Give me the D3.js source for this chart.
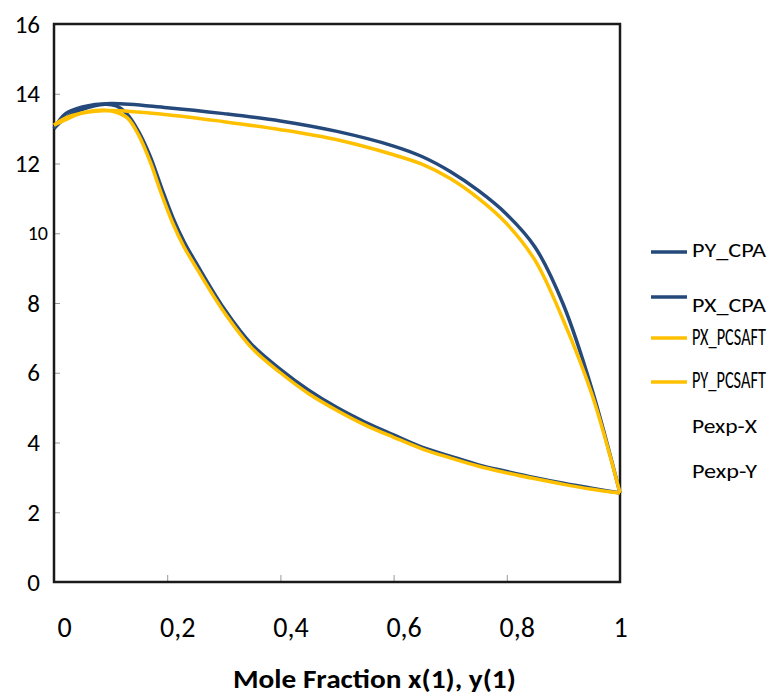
<!DOCTYPE html>
<html lang="en">
<head>
<meta charset="UTF-8"/>
<title>Pxy</title>
<script src="https://d3js.org/d3.v7.min.js"></script>
<style>
  body { margin: 0; background: #fff; }
  text { font-family: Carlito, "Open Sans", sans-serif; fill: #000; }
</style>
</head>
<body>
<div id="chart"></div>
<script>
// mole fractions where the curves were read
var xs = [0, 0.02, 0.05, 0.1, 0.2, 0.3, 0.4, 0.5, 0.6, 0.65, 0.7, 0.75, 0.8, 0.85, 0.9, 0.95, 1];
var pxCPA = [13.0, 13.42, 13.62, 13.72, 13.6, 13.43, 13.22, 12.92, 12.5, 12.2, 11.77, 11.22, 10.54, 9.6, 7.95, 5.55, 2.55];
var pxPCSAFT = [13.1, 13.3, 13.45, 13.52, 13.4, 13.2, 12.97, 12.68, 12.25, 11.98, 11.57, 11.0, 10.27, 9.22, 7.5, 5.4, 2.55];

var ys = [0, 0.02, 0.05, 0.09, 0.11, 0.13, 0.15, 0.17, 0.19, 0.21, 0.23, 0.25, 0.3, 0.35, 0.4, 0.45, 0.5, 0.55, 0.6, 0.65, 0.7, 0.75, 0.8, 0.85, 0.9, 0.95, 1];
var pyCPA = [13.0, 13.3, 13.55, 13.7, 13.65, 13.4, 12.9, 12.2, 11.3, 10.45, 9.75, 9.18, 7.85, 6.8, 6.1, 5.5, 5.0, 4.58, 4.22, 3.87, 3.61, 3.36, 3.17, 2.99, 2.83, 2.69, 2.55];
var pyPCSAFT = [13.1, 13.25, 13.45, 13.53, 13.47, 13.3, 12.8, 12.05, 11.12, 10.28, 9.6, 9.05, 7.75, 6.7, 6.0, 5.4, 4.92, 4.5, 4.15, 3.82, 3.56, 3.32, 3.13, 2.96, 2.8, 2.66, 2.55];

var xTicks = [0, 0.2, 0.4, 0.6, 0.8, 1];
var yTicks = [0, 2, 4, 6, 8, 10, 12, 14, 16];
var legendNames = ["PY_CPA", "PX_CPA", "PX_PCSAFT", "PY_PCSAFT", "Pexp-X", "Pexp-Y"];

var blue = "#24497a", yellow = "#ffc000";

var W = 770, H = 698;
var margin = {top: 24, left: 54},
    width = 566, height = 558;

var svg = d3.select("#chart").append("svg")
    .attr("width", W).attr("height", H);
var g = svg.append("g")
    .attr("transform", "translate(" + margin.left + "," + margin.top + ")");

var x = d3.scaleLinear().domain([0, 1]).range([0, width]);
var y = d3.scaleLinear().domain([0, 16]).range([height, 0]);

// stretch a text horizontally to a given width, keeping its left edge
function fitWidth(t, x0, w) {
  var len = t.node().getComputedTextLength();
  var k = w / len;
  t.attr("transform", "translate(" + x0 + ",0) scale(" + k + ",1) translate(" + (-x0) + ",0)");
}

// x axis, ticks pointing inward
var xa = g.append("g")
    .attr("transform", "translate(0," + height + ")")
    .call(d3.axisBottom(x).tickValues(xTicks).tickSize(-7)
        .tickFormat(function(d) { return String(d).replace(".", ","); }));
xa.select(".domain").remove();
xa.selectAll("line").attr("stroke", "#999");
xa.selectAll("text")
    .attr("y", 55).attr("dy", 0)
    .attr("dx", function(d) { return d === 1 ? 0 : 10; })
    .style("font-size", "28px");

// y axis
var ya = g.append("g")
    .call(d3.axisLeft(y).tickValues(yTicks).tickSize(-6).tickPadding(14));
ya.select(".domain").remove();
ya.selectAll("line").attr("stroke", "#999");
ya.selectAll("text")
    .attr("dy", "0.32em")
    .style("font-size", function(d) { return d === 10 ? "20px" : "25px"; })
    .attr("x", function(d) { return d === 10 ? -6 : -14; });

// frame
g.append("rect")
    .attr("width", width).attr("height", height)
    .attr("fill", "none").attr("stroke", "#1a1a1a").attr("stroke-width", 2.5);

var line = d3.line().curve(d3.curveCatmullRom.alpha(0.5));

function curve(xv, pv, col, w) {
  g.append("path")
    .datum(xv.map(function(d, i) { return [x(d), y(pv[i])]; }))
    .attr("d", line)
    .attr("fill", "none")
    .attr("stroke", col)
    .attr("stroke-width", w)
    .attr("stroke-linejoin", "round");
}

curve(ys, pyCPA, blue, 3.5);
curve(xs, pxCPA, blue, 3.5);
curve(xs, pxPCSAFT, yellow, 3.5);
curve(ys, pyPCSAFT, yellow, 3.5);

// legend
var legLineY = [252, 297, 338, 382];
var legTextY = [257, 312, 345, 388, 433, 478];
var legTextW = [74, 74, 74, 74, 65, 65];
var legCol = [blue, blue, yellow, yellow];
var leg = svg.append("g");
legendNames.forEach(function(n, i) {
  if (legCol[i]) {
    leg.append("line")
      .attr("x1", 651).attr("x2", 687)
      .attr("y1", legLineY[i]).attr("y2", legLineY[i])
      .attr("stroke", legCol[i]).attr("stroke-width", 3.5);
  }
  var t = leg.append("text")
    .attr("x", 692)
    .attr("y", legTextY[i])
    .style("font-size", n.indexOf("PCSAFT") >= 0 ? "24px" : "20px")
    .text(n);
  fitWidth(t, 692, legTextW[i]);
});

// axis title
var title = svg.append("text")
    .attr("x", 233).attr("y", 688)
    .style("font-size", "26px")
    .style("font-weight", "bold")
    .text("Mole Fraction x(1), y(1)");
fitWidth(title, 233, 283);
</script>
</body>
</html>
